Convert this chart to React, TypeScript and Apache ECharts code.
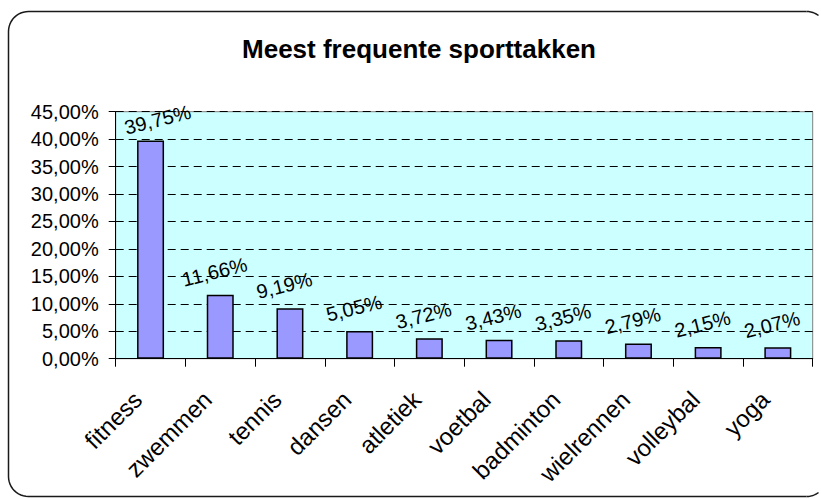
import React, { useEffect, useRef } from "react";
import * as echarts from "echarts";

const title = "Meest frequente sporttakken";
const categories = [
  "fitness",
  "zwemmen",
  "tennis",
  "dansen",
  "atletiek",
  "voetbal",
  "badminton",
  "wielrennen",
  "volleybal",
  "yoga",
];
const values = [39.75, 11.66, 9.19, 5.05, 3.72, 3.43, 3.35, 2.79, 2.15, 2.07];
const yMin = 0;
const yMax = 45;
const yStep = 5;

const FONT = "'Liberation Sans', Arial, sans-serif";
const fmt = (v: number) => v.toFixed(2).replace(".", ",") + "%";

// chart frame (rounded border, its right side runs past the picture edge)
const FL = 8.5, FT = 11.5, FB = 496.5, FR = 826.5, FRAD = 20, EDGE_X = 818.5;

function cornerPoints(cx: number, cy: number, a0: number, a1: number) {
  const pts: number[][] = [];
  const n = 12;
  for (let k = 0; k <= n; k++) {
    const a = a0 + ((a1 - a0) * k) / n;
    pts.push([cx + FRAD * Math.cos(a), cy + FRAD * Math.sin(a)]);
  }
  return pts;
}

export default function App() {
  const ref = useRef<HTMLDivElement>(null);
  useEffect(() => {
    document.body.style.margin = "0";
    document.body.style.overflow = "hidden";
    if (!ref.current) return;
    const chart = echarts.init(ref.current, null, { renderer: "svg" });
    const cut = Math.acos((EDGE_X - (FR - FRAD)) / FRAD);
    const frameStyle = { fill: "none", stroke: "#1a1a1a", lineWidth: 1.5 };
    const frame: any[] = [
      {
        type: "polyline",
        shape: {
          points: [
            [FR - FRAD, FB],
            ...cornerPoints(FL + FRAD, FB - FRAD, Math.PI * 0.5, Math.PI),
            ...cornerPoints(FL + FRAD, FT + FRAD, Math.PI, Math.PI * 1.5),
            [FR - FRAD, FT],
          ],
        },
      },
      {
        type: "polyline",
        shape: { points: cornerPoints(FR - FRAD, FT + FRAD, Math.PI * 1.5, Math.PI * 2 - cut) },
      },
      {
        type: "polyline",
        shape: { points: cornerPoints(FR - FRAD, FB - FRAD, Math.PI * 0.5, cut) },
      },
    ].map((e) => ({ ...e, style: frameStyle, z: 100, silent: true }));
    chart.setOption({
      animation: false,
      backgroundColor: "#ffffff",
      textStyle: { fontFamily: FONT },
      title: {
        text: title,
        left: 414,
        top: 31,
        textAlign: "center",
        textStyle: { fontFamily: FONT, fontSize: 26, fontWeight: "bold", color: "#000" },
      },
      graphic: frame,
      grid: {
        left: 115.7,
        right: 8.3,
        top: 111.7,
        bottom: 140.3,
        show: true,
        backgroundColor: "#CCFFFF",
        borderColor: "#808080",
        borderWidth: 1,
        containLabel: false,
      },
      xAxis: {
        type: "category",
        data: categories,
        boundaryGap: true,
        axisLine: { show: true, lineStyle: { color: "#000", width: 1 } },
        axisTick: { show: true, length: 8, inside: false, alignWithLabel: false, lineStyle: { color: "#000" } },
        axisLabel: {
          interval: 0,
          rotate: 45,
          margin: 24,
          padding: [0, 18, 0, 0],
          fontFamily: FONT,
          fontSize: 24,
          color: "#000",
        },
        splitLine: { show: false },
      },
      yAxis: {
        type: "value",
        min: yMin,
        max: yMax,
        interval: yStep,
        axisLine: { show: true, lineStyle: { color: "#000", width: 1 } },
        axisTick: { show: true, length: 7, lineStyle: { color: "#000" } },
        axisLabel: {
          margin: 17,
          fontFamily: FONT,
          fontSize: 20,
          color: "#000",
          formatter: (v: number) => fmt(v),
        },
        splitLine: { show: true, lineStyle: { color: "#000", width: 1, type: [8, 5] } },
      },
      series: [
        {
          type: "bar",
          data: values.map((v, i) =>
            i === 0 ? { value: v, label: { offset: [12, -18.5] } } : { value: v }
          ),
          barWidth: 27,
          itemStyle: { color: "#9999FF", borderColor: "#000", borderWidth: 1.5 },
          label: {
            show: true,
            position: "top",
            distance: 0,
            align: "center",
            verticalAlign: "middle",
            offset: [0, -23.5],
            rotate: 14,
            fontFamily: FONT,
            fontSize: 20,
            color: "#000",
            formatter: (p: any) => fmt(p.value),
          },
        },
      ],
    });
    return () => chart.dispose();
  }, []);
  return <div ref={ref} style={{ width: 821, height: 499, overflow: "hidden" }} />;
}
